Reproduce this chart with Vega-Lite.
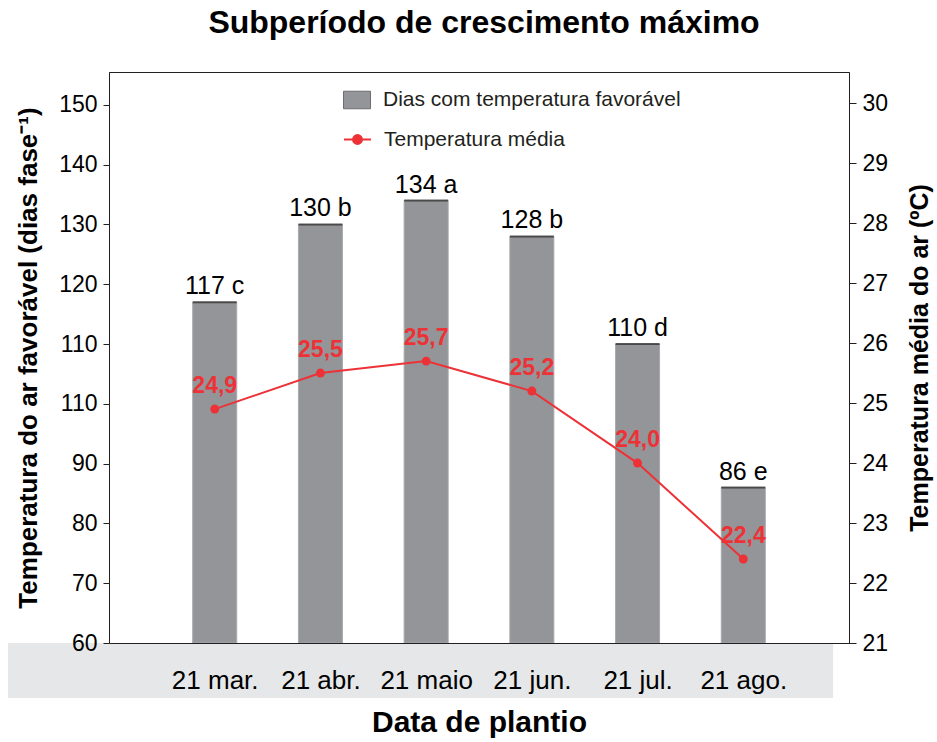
{
  "$schema": "https://vega.github.io/schema/vega-lite/v6.json",
  "width": 740,
  "height": 571,
  "autosize": "none",
  "padding": {"left": 109, "top": 72, "right": 88, "bottom": 99},
  "background": "white",
  "title": {"text": "Subperíodo de crescimento máximo", "font": "Liberation Sans", "fontSize": 32, "fontWeight": "bold", "color": "#000000", "offset": 32, "anchor": "middle", "dx": 5},
  "datasets": {
    "faixa": [{"ini": -0.955, "fim": 6.85, "base": 60, "topo": 50.8}],
    "plantio": [
      {"data": "21 mar.", "dias": 117, "rotulo": "117 c", "temp": 24.9, "temp_txt": "24,9"},
      {"data": "21 abr.", "dias": 130, "rotulo": "130 b", "temp": 25.5, "temp_txt": "25,5"},
      {"data": "21 maio", "dias": 134, "rotulo": "134 a", "temp": 25.7, "temp_txt": "25,7"},
      {"data": "21 jun.", "dias": 128, "rotulo": "128 b", "temp": 25.2, "temp_txt": "25,2"},
      {"data": "21 jul.", "dias": 110, "rotulo": "110 d", "temp": 24.0, "temp_txt": "24,0"},
      {"data": "21 ago.", "dias": 86, "rotulo": "86 e", "temp": 22.4, "temp_txt": "22,4"}
    ]
  },
  "layer": [
    {
      "data": {"name": "faixa"},
      "mark": {"type": "rect", "color": "#e6e7e8", "clip": false},
      "encoding": {
        "x": {"field": "ini", "type": "quantitative", "scale": {"domain": [0, 7], "nice": false, "zero": false}, "axis": null},
        "x2": {"field": "fim"},
        "y": {"field": "base", "type": "quantitative", "scale": {"domain": [60, 155.5], "nice": false, "zero": false}, "axis": null},
        "y2": {"field": "topo"}
      }
    },
    {
      "data": {"name": "plantio"},
      "encoding": {
        "x": {
          "field": "data", "type": "nominal", "sort": null,
          "scale": {"type": "point", "padding": 1},
          "axis": {"title": "Data de plantio", "labelAngle": 0, "ticks": false, "labelPadding": 24, "labelFontSize": 26, "titleFontSize": 30, "titleFontWeight": "bold", "titlePadding": 14, "domainColor": "#231f20", "zindex": 1}
        }
      },
      "layer": [
        {
          "encoding": {
            "y": {
              "field": "dias", "type": "quantitative",
              "scale": {"domain": [60, 155.5], "nice": false, "zero": false},
              "axis": {"title": "Temperatura do ar favorável (dias fase⁻¹)", "values": [60, 70, 80, 90, 100, 110, 120, 130, 140, 150], "labelExpr": "datum.value == 100 ? '110' : datum.label", "orient": "left", "tickSize": 6, "labelPadding": 6, "labelFontSize": 23, "titleFontSize": 26, "titleFontWeight": "bold", "titlePadding": 17, "domainColor": "#231f20", "tickColor": "#231f20", "grid": false, "zindex": 1}
            }
          },
          "layer": [
            {
              "mark": {"type": "bar", "width": 44, "color": "#939598", "stroke": "#a7a9ac", "strokeWidth": 1},
              "encoding": {
                "y2": {"datum": 60},
                "fill": {"datum": "Dias com temperatura favorável", "type": "nominal", "scale": {"range": ["#939598"]},
                  "legend": {"title": null, "orient": "none", "legendX": 234, "legendY": 14, "symbolType": "M-1,-0.65H1V0.65H-1Z", "symbolSize": 729, "symbolStrokeColor": "#6d6e71", "symbolStrokeWidth": 1, "labelFontSize": 21, "labelOffset": 12, "labelLimit": 0, "padding": 0, "labelColor": "#231f20"}}
              }
            },
            {
              "mark": {"type": "tick", "size": 44, "thickness": 2, "color": "#231f20"}
            },
            {
              "mark": {"type": "text", "baseline": "alphabetic", "dy": -8, "fontSize": 25, "color": "#000000", "font": "Liberation Sans"},
              "encoding": {"text": {"field": "rotulo"}}
            }
          ]
        },
        {
          "encoding": {
            "y": {
              "field": "temp", "type": "quantitative",
              "scale": {"domain": [21, 30.52], "nice": false, "zero": false},
              "axis": {"title": "Temperatura média do ar (ºC)", "values": [21, 22, 23, 24, 25, 26, 27, 28, 29, 30], "orient": "right", "tickSize": 7, "labelPadding": 6, "labelFontSize": 23, "titleFontSize": 25, "titleFontWeight": "bold", "titleAngle": 270, "titleBaseline": "top", "titlePadding": 20, "domainColor": "#231f20", "tickColor": "#231f20", "grid": false, "zindex": 1}
            }
          },
          "layer": [
            {
              "mark": {"type": "line", "strokeWidth": 2},
              "encoding": {
                "stroke": {"datum": "Temperatura média", "type": "nominal", "scale": {"range": ["#ed3237"]},
                  "legend": {"title": null, "orient": "none", "legendX": 234, "legendY": 53, "symbolType": "M-1,0H1M0.33,0A0.33,0.33,0,1,1,-0.33,0A0.33,0.33,0,1,1,0.33,0Z", "symbolSize": 729, "symbolStrokeWidth": 2, "labelFontSize": 21, "labelOffset": 12, "labelLimit": 0, "padding": 0, "labelColor": "#231f20",
                    "encode": {"symbols": {"update": {"fill": {"value": "#ed3237"}}}}}}
              }
            },
            {
              "mark": {"type": "point", "filled": true, "size": 80, "color": "#ed3237", "opacity": 1}
            },
            {
              "mark": {"type": "text", "baseline": "alphabetic", "dy": -16, "fontSize": 23, "fontWeight": "bold", "color": "#ed3237", "font": "Liberation Sans"},
              "encoding": {"text": {"field": "temp_txt"}}
            }
          ]
        }
      ],
      "resolve": {"scale": {"y": "independent"}}
    }
  ],
  "resolve": {"scale": {"x": "independent", "y": "independent"}},
  "config": {
    "font": "Liberation Sans",
    "view": {"stroke": "#231f20", "strokeWidth": 1},
    "axis": {"labelFont": "Liberation Sans", "titleFont": "Liberation Sans", "labelColor": "#000000", "titleColor": "#000000"},
    "legend": {"labelFont": "Liberation Sans"}
  }
}
